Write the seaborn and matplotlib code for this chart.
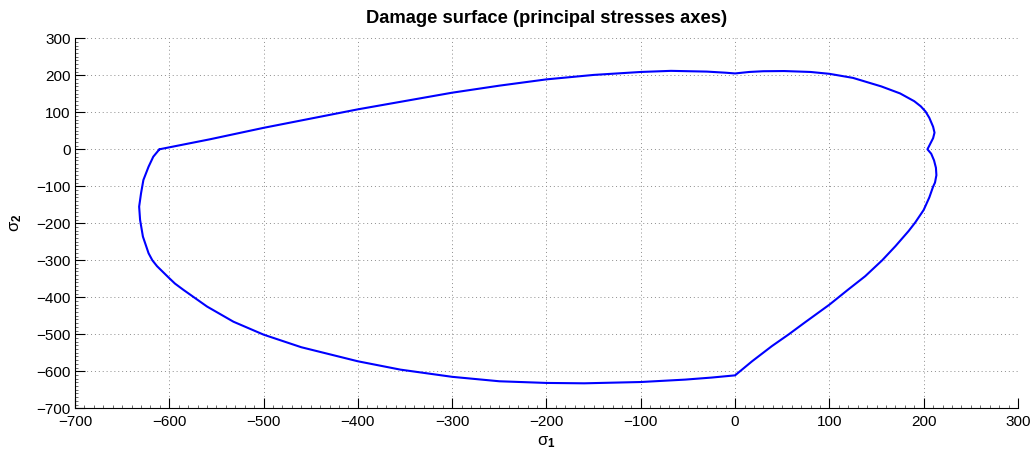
import matplotlib
matplotlib.use("Agg")
import matplotlib.pyplot as plt
from matplotlib.ticker import MultipleLocator, FuncFormatter
import pandas as pd
import seaborn as sns

# closed damage-surface contour, traced counter-clockwise from the left corner
sigma1 = [-610.5, -557, -500, -400, -300, -250, -200, -150, -100, -68, -30, -10,
          0, 15, 30, 52, 80, 100, 125, 155, 175, 190, 197, 202, 206, 210, 211.5,
          210, 207, 204, 208, 211, 213, 213.5, 212, 210, 206, 200, 191, 184,
          170, 156, 138, 120, 100, 87, 74, 57, 39, 18, 0,
          -25, -53, -100, -160, -200, -250, -300, -355, -400, -460, -500,
          -532, -560, -585, -594, -601, -607, -613, -618, -622, -628, -631, -632, -630, -627.5,
          -622, -617, -610.5]
sigma2 = [0, 27, 58, 108, 153, 172, 189, 201, 209, 212, 210, 207,
          205, 209, 211, 211.5, 209, 204, 193, 170, 151, 130, 116, 102, 85, 61, 45,
          30, 15, 0, -12, -30, -50, -70, -90, -101, -130, -164, -198, -221,
          -262, -300, -343, -379, -420, -444, -468, -500, -532, -573, -611,
          -617, -622.5, -629, -632.5, -631.5, -627, -615, -595.5, -573, -535, -501,
          -466, -425, -380, -363, -346, -331, -316, -300, -281, -236, -191, -155, -119, -83,
          -47, -20, 0]

df = pd.DataFrame({"s1": sigma1, "s2": sigma2})

sns.set_style("white")
plt.rcParams["font.family"] = ["Liberation Sans", "DejaVu Sans"]
plt.rcParams["text.color"] = "black"
plt.rcParams["axes.labelcolor"] = "black"
plt.rcParams["mathtext.fontset"] = "custom"
plt.rcParams["mathtext.rm"] = "Liberation Sans"
plt.rcParams["mathtext.bf"] = "Liberation Sans:bold"
plt.rcParams["mathtext.it"] = "Liberation Sans:italic"

fig = plt.figure(figsize=(10.32, 4.57), dpi=100)
ax = fig.add_axes([0.0727, 0.1066, 0.9137, 0.8096])

sns.lineplot(data=df, x="s1", y="s2", sort=False, estimator=None,
             color="#0000ff", linewidth=1.5, ax=ax)

ax.set_xlim(-700, 300)
ax.set_ylim(-700, 300)
ax.xaxis.set_major_locator(MultipleLocator(100))
ax.yaxis.set_major_locator(MultipleLocator(100))
ax.xaxis.set_minor_locator(MultipleLocator(10))
ax.yaxis.set_minor_locator(MultipleLocator(10))
fmt = FuncFormatter(lambda v, p: f"{int(round(v))}".replace("-", "\u2212"))
ax.xaxis.set_major_formatter(fmt)
ax.yaxis.set_major_formatter(fmt)

ax.grid(True, which="major", linestyle=(0, (1, 3)), color="#8c8c8c", linewidth=0.7)
ax.tick_params(which="major", direction="in", length=7, width=0.8, labelsize=11, colors="black")
ax.tick_params(axis="x", which="major", pad=5)
ax.tick_params(axis="y", which="major", pad=3)
ax.tick_params(which="minor", direction="in", length=2, width=0.5, colors="#333333")
ax.tick_params(axis="both", which="both", top=False, right=False, bottom=True, left=True)
for s in ["top", "right"]:
    ax.spines[s].set_visible(False)
for s in ["left", "bottom"]:
    ax.spines[s].set_color("black")
    ax.spines[s].set_linewidth(0.8)

ax.set_title("Damage surface (principal stresses axes)", fontsize=13.2, fontweight="bold",
             pad=11, color="black")
ax.set_xlabel("\u03c3$_\\mathbf{1}$", fontsize=12, labelpad=4, color="black")
ax.set_ylabel("\u03c3$_\\mathbf{2}$", fontsize=12, labelpad=9, color="black")

fig.savefig("out.png", dpi=100)
